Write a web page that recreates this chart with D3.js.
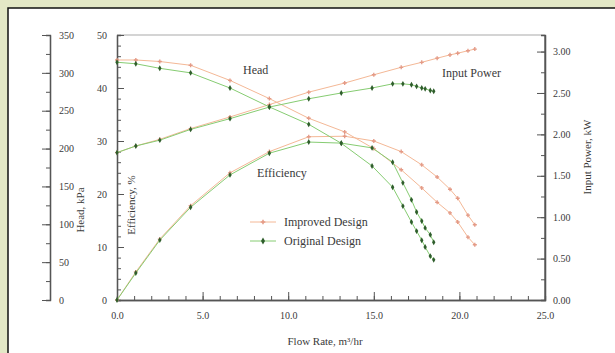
<!DOCTYPE html>
<html><head><meta charset="utf-8">
<script src="https://cdn.jsdelivr.net/npm/d3@7"></script>
<style>
body{margin:0;background:#e3e8c6;}
text{font-family:"Liberation Serif","DejaVu Serif",serif;fill:#3a3a3a;}
</style></head>
<body><svg id="c" width="615" height="353"></svg>
<script>
// ---- data ----
const flowOrig = [0, 1.1, 2.5, 4.3, 6.6, 8.9, 11.2, 13.1, 14.9, 16.1, 16.7, 17.2, 17.5, 17.8, 18.0, 18.3, 18.5];
const headOrig = [314, 312, 306, 300, 280, 255, 232, 207, 177, 149, 124, 103, 91, 79, 70, 58, 53];
const effOrig  = [0, 5.1, 11.3, 17.5, 23.6, 27.7, 29.8, 29.6, 28.7, 26.0, 22.1, 18.9, 16.6, 14.9, 13.6, 12.3, 10.9];
const powOrig  = [1.78, 1.86, 1.93, 2.06, 2.19, 2.33, 2.43, 2.50, 2.56, 2.61, 2.61, 2.60, 2.58, 2.56, 2.55, 2.53, 2.52];

const flowImp = [0, 1.1, 2.5, 4.3, 6.6, 8.9, 11.2, 13.3, 15.0, 16.6, 17.8, 18.7, 19.45, 19.9, 20.5, 20.9];
const headImp = [317, 317, 315, 310, 290, 266, 240, 222, 200, 172, 148, 129, 115, 103, 83, 73];
const effImp  = [0, 5.3, 11.5, 17.8, 24.0, 28.0, 30.8, 30.9, 30.0, 28.0, 25.5, 23.2, 20.9, 19.2, 16.0, 14.2];
const powImp  = [1.78, 1.86, 1.94, 2.07, 2.21, 2.36, 2.51, 2.62, 2.72, 2.81, 2.87, 2.92, 2.96, 2.98, 3.01, 3.03];

const xTicks = [0, 5, 10, 15, 20, 25];
const effTicks = [0, 10, 20, 30, 40, 50];
const headTicks = [0, 50, 100, 150, 200, 250, 300, 350];
const powTicks = [0, 0.5, 1, 1.5, 2, 2.5, 3];
const seriesNames = ["Improved Design", "Original Design"];
const curveLabels = ["Head", "Input Power", "Efficiency"];

// ---- drawing ----
const svg = d3.select("#c");
svg.append("rect").attr("x",8).attr("y",8).attr("width",640).attr("height",400)
  .attr("fill","#fff").attr("stroke","#111").attr("stroke-width",1.5);

const x = d3.scaleLinear([0,25],[117,545]);
const yEff = d3.scaleLinear([0,50],[300,35]);
const yHead = d3.scaleLinear([0,350],[300,35]);
const yPow = d3.scaleLinear([0,3.2],[300,35]);

const C_IMP = "#f4b896", C_ORIG = "#86cc72", M_ORIG = "#2f5e2c", M_IMP = "#e49a86";

function styleAxis(g){
  g.selectAll("path").attr("stroke","#555").attr("stroke-width",1.3);
  g.selectAll("line").attr("stroke","#555");
  g.selectAll("text").attr("font-size",10).attr("fill","#444").attr("font-family","Liberation Serif, serif");
}

// top frame of plot
svg.append("line").attr("x1",117).attr("x2",545).attr("y1",35).attr("y2",35)
  .attr("stroke","#aaa").attr("stroke-width",1.2);

// x axis
svg.append("g").attr("transform","translate(0,300)")
  .call(d3.axisBottom(x).tickValues(d3.range(0,26,1)).tickSize(-4).tickFormat(""))
  .call(styleAxis);
svg.append("g").attr("transform","translate(0,300)")
  .call(d3.axisBottom(x).tickValues(xTicks).tickSizeInner(-8).tickSizeOuter(0).tickPadding(12).tickFormat(d3.format(".1f")))
  .call(styleAxis);

// efficiency axis (left, at plot edge)
svg.append("g").attr("transform","translate(117,0)")
  .call(d3.axisLeft(yEff).tickValues(d3.range(0,51,2)).tickSize(-4).tickFormat(""))
  .call(styleAxis);
svg.append("g").attr("transform","translate(117,0)")
  .call(d3.axisLeft(yEff).tickValues(effTicks).tickSizeInner(-7).tickSizeOuter(0).tickPadding(10).tickFormat(d3.format("d")))
  .call(styleAxis);

// head axis (outer left)
svg.append("g").attr("transform","translate(50,0)")
  .call(d3.axisRight(yHead).tickValues(d3.range(0,351,25)).tickSize(-4).tickFormat(""))
  .call(styleAxis);
svg.append("g").attr("transform","translate(50,0)")
  .call(d3.axisRight(yHead).tickValues(headTicks).tickSizeInner(-8).tickSizeOuter(0).tickPadding(9).tickFormat(d3.format("d")))
  .call(styleAxis);

// power axis (right)
svg.append("g").attr("transform","translate(545,0)")
  .call(d3.axisRight(yPow).tickValues(d3.range(0,3.01,0.25)).tickSize(-4).tickFormat(""))
  .call(styleAxis);
svg.append("g").attr("transform","translate(545,0)")
  .call(d3.axisRight(yPow).tickValues(powTicks).tickSizeInner(-8).tickSizeOuter(0).tickPadding(8).tickFormat(d3.format(".2f")))
  .call(styleAxis);
svg.append("line").attr("x1",545).attr("x2",545).attr("y1",35).attr("y2",300).attr("stroke","#555").attr("stroke-width",1.3);

// series
function drawSeries(flow, vals, yScale, color, marker){
  const pts = flow.map((f,i)=>[x(f), yScale(vals[i])]);
  svg.append("path").attr("d", d3.line()(pts)).attr("fill","none")
    .attr("stroke",color).attr("stroke-width",1);
  const g = svg.append("g");
  if(marker==="orig"){
    g.selectAll("path").data(pts).join("path")
      .attr("transform",d=>`translate(${d[0]},${d[1]})`)
      .attr("d", d3.symbol(d3.symbolDiamond, 10)())
      .attr("fill",M_ORIG);
  } else {
    g.selectAll("path").data(pts).join("path")
      .attr("transform",d=>`translate(${d[0]},${d[1]})`)
      .attr("d", d3.symbol(d3.symbolCross, 9)())
      .attr("fill",M_IMP);
  }
}
drawSeries(flowImp, headImp, yHead, C_IMP, "imp");
drawSeries(flowImp, effImp, yEff, C_IMP, "imp");
drawSeries(flowImp, powImp, yPow, C_IMP, "imp");
drawSeries(flowOrig, headOrig, yHead, C_ORIG, "orig");
drawSeries(flowOrig, effOrig, yEff, C_ORIG, "orig");
drawSeries(flowOrig, powOrig, yPow, C_ORIG, "orig");

// curve labels
svg.append("text").attr("x",243).attr("y",74).attr("font-size",12).text(curveLabels[0]);
svg.append("text").attr("x",442).attr("y",77).attr("font-size",12).text(curveLabels[1]);
svg.append("text").attr("x",257).attr("y",177).attr("font-size",12).text(curveLabels[2]);

// legend
const legY = [222, 241];
const legC = [C_IMP, C_ORIG];
seriesNames.forEach((n,i)=>{
  svg.append("line").attr("x1",250).attr("x2",276).attr("y1",legY[i]).attr("y2",legY[i])
    .attr("stroke",legC[i]).attr("stroke-width",1);
  svg.append("path").attr("transform",`translate(263,${legY[i]})`)
    .attr("d", i===0 ? d3.symbol(d3.symbolCross,12)() : d3.symbol(d3.symbolDiamond,14)())
    .attr("fill", i===0 ? M_IMP : M_ORIG);
  svg.append("text").attr("x",284).attr("y",legY[i]+4).attr("font-size",12).text(n);
});

// axis titles
svg.append("text").attr("transform","translate(325,345)").attr("text-anchor","middle")
  .attr("font-size",11).text("Flow Rate, m³/hr");
svg.append("text").attr("transform","translate(84,210) rotate(-90)").attr("text-anchor","middle")
  .attr("font-size",11).text("Head, kPa");
svg.append("text").attr("transform","translate(135,205) rotate(-90)").attr("text-anchor","middle")
  .attr("font-size",11).text("Efficiency, %");
svg.append("text").attr("transform","translate(591,157) rotate(-90)").attr("text-anchor","middle")
  .attr("font-size",11).text("Input Power, kW");
</script></body></html>
